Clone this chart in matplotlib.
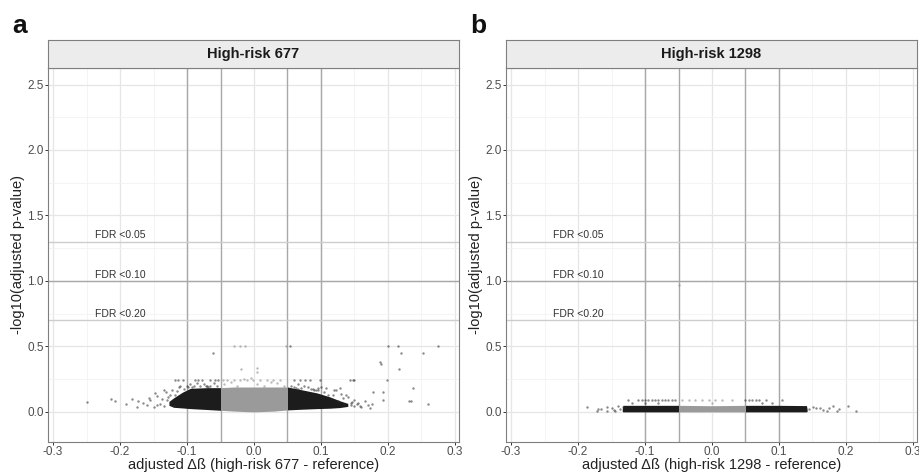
import matplotlib
matplotlib.use("Agg")
import matplotlib.pyplot as plt
import numpy as np

plt.rcParams['font.family'] = ['Liberation Sans', 'DejaVu Sans']

# ---------------- data ----------------
panel_letters = ["a", "b"]
strip_titles = ["High-risk 677", "High-risk 1298"]
x_titles = ["adjusted \u0394\u00df (high-risk 677 - reference)",
            "adjusted \u0394\u00df (high-risk 1298 - reference)"]
y_title = "-log10(adjusted p-value)"

x_ticks = [-0.3, -0.2, -0.1, 0.0, 0.1, 0.2, 0.3]
y_ticks = [0.0, 0.5, 1.0, 1.5, 2.0, 2.5]

fdr_levels = [1.301, 1.0, 0.699]
fdr_labels = ["FDR <0.05", "FDR <0.10", "FDR <0.20"]
effect_lines = [-0.1, -0.05, 0.05, 0.1]

# dense cloud envelopes
a_env_x = [-0.127, -0.12, -0.107, -0.095, -0.07, -0.05, -0.03, 0.0, 0.03, 0.05,
           0.07, 0.094, 0.113, 0.128, 0.14]
a_env_top = [0.08, 0.107, 0.15, 0.18, 0.185, 0.185, 0.19, 0.19, 0.19, 0.19,
             0.17, 0.145, 0.115, 0.085, 0.065]
a_env_bot = [0.05, 0.035, 0.03, 0.025, 0.018, 0.012, 0.006, 0.0, 0.006, 0.015,
             0.02, 0.025, 0.028, 0.033, 0.042]

b_env_x = [-0.134, -0.133, -0.10, -0.05, 0.0, 0.05, 0.10, 0.141, 0.142]
b_env_top = [0.02, 0.05, 0.05, 0.05, 0.047, 0.05, 0.05, 0.048, 0.02]
b_env_bot = [0.005, 0.0, 0.0, 0.0, 0.0, 0.0, 0.0, 0.0, 0.005]

# sparse points
a_pts_x = [-0.249, -0.213, -0.207, -0.191, -0.182, -0.174, -0.173, -0.157, -0.148, -0.145,
           -0.135, -0.130, -0.125, -0.120, -0.165, -0.160, -0.155, -0.150, -0.145, -0.140,
           -0.138, -0.135, -0.132, -0.128, -0.122, -0.118, -0.115, -0.112, -0.110, -0.105,
           -0.100, -0.095, -0.090, -0.085, -0.080, -0.075, -0.070, -0.065, -0.060, -0.055,
           -0.118, -0.113, -0.106, -0.088, -0.083, -0.078, -0.066, -0.058, -0.054, -0.061,
           -0.046, -0.040, -0.030, -0.021, -0.011, -0.001, 0.009, 0.019, 0.029, 0.039,
           -0.045, -0.035, -0.025, -0.015, -0.005, 0.005, 0.015, 0.025, 0.035, 0.045,
           -0.030, -0.021, -0.013, 0.048, 0.054, -0.020, 0.004, 0.005,
           0.059, 0.069, 0.076, 0.084, 0.099, 0.143, 0.148, 0.150,
           0.055, 0.060, 0.065, 0.070, 0.075, 0.080, 0.085, 0.090, 0.095, 0.100,
           0.105, 0.110, 0.115, 0.120, 0.125, 0.130, 0.135, 0.140, 0.145, 0.150,
           0.155, 0.160, 0.165, 0.170, 0.118, 0.123, 0.133, 0.108, 0.128, 0.138,
           0.200, 0.215, 0.274, 0.219, 0.253, 0.188, 0.190, 0.217, 0.198, 0.238,
           0.192, 0.178, 0.232, 0.234, 0.259, 0.192, 0.176, 0.173,
           0.088, 0.092, 0.095, 0.062, 0.066, -0.092, -0.098, -0.072, -0.068,
           0.145, 0.150, 0.153, 0.158, 0.147]
a_pts_y = [0.079, 0.097, 0.085, 0.061, 0.097, 0.036, 0.085, 0.104, 0.147, 0.053,
           0.168, 0.092, 0.130, 0.046, 0.070, 0.050, 0.090, 0.040, 0.120, 0.060,
           0.100, 0.045, 0.150, 0.110, 0.170, 0.130, 0.160, 0.190, 0.200, 0.175,
           0.200, 0.210, 0.200, 0.220, 0.200, 0.210, 0.195, 0.200, 0.220, 0.200,
           0.244, 0.244, 0.244, 0.244, 0.244, 0.244, 0.244, 0.244, 0.244, 0.448,
           0.244, 0.244, 0.244, 0.244, 0.244, 0.244, 0.244, 0.244, 0.244, 0.244,
           0.210, 0.230, 0.200, 0.250, 0.260, 0.210, 0.200, 0.230, 0.220, 0.200,
           0.504, 0.504, 0.504, 0.504, 0.504, 0.328, 0.307, 0.333,
           0.244, 0.244, 0.244, 0.244, 0.244, 0.244, 0.244, 0.244,
           0.200, 0.190, 0.210, 0.180, 0.200, 0.190, 0.175, 0.170, 0.180, 0.190,
           0.150, 0.130, 0.100, 0.170, 0.080, 0.140, 0.060, 0.110, 0.050, 0.090,
           0.070, 0.040, 0.080, 0.050, 0.130, 0.168, 0.104, 0.180, 0.180, 0.130,
           0.504, 0.504, 0.504, 0.448, 0.448, 0.384, 0.366, 0.328, 0.244, 0.180,
           0.153, 0.153, 0.085, 0.085, 0.061, 0.092, 0.061, 0.033,
           0.175, 0.170, 0.165, 0.185, 0.178, 0.192, 0.188, 0.195, 0.19,
           0.065, 0.045, 0.058, 0.048, 0.072]

b_pts_x = [-0.186, -0.172, -0.157, -0.156, -0.147, -0.140, -0.133, -0.170, -0.165, -0.150,
           -0.145, -0.138, -0.125, -0.110, -0.105, -0.100, -0.095, -0.090, -0.085, -0.080,
           -0.075, -0.070, -0.065, -0.060, -0.055, -0.045, -0.035, -0.025, -0.015, -0.005,
           0.005, 0.015, 0.030, 0.050, 0.055, 0.060, 0.065, 0.070, 0.080, 0.105,
           -0.120, -0.100, -0.080, 0.000, 0.075, 0.090,
           0.145, 0.151, 0.155, 0.161, 0.165, 0.171, 0.175, 0.181, 0.186, 0.190,
           0.203, 0.215, -0.049]
b_pts_y = [0.041, 0.008, 0.008, 0.041, 0.015, 0.046, 0.036, 0.025, 0.020, 0.030,
           0.010, 0.025, 0.092, 0.092, 0.092, 0.092, 0.092, 0.092, 0.092, 0.092,
           0.092, 0.092, 0.092, 0.092, 0.092, 0.092, 0.092, 0.092, 0.092, 0.092,
           0.092, 0.092, 0.092, 0.092, 0.092, 0.092, 0.092, 0.092, 0.092, 0.092,
           0.070, 0.065, 0.070, 0.070, 0.070, 0.065,
           0.020, 0.041, 0.030, 0.033, 0.015, 0.008, 0.030, 0.046, 0.008, 0.025,
           0.046, 0.008, 0.969]

envelopes = [(a_env_x, a_env_top, a_env_bot), (b_env_x, b_env_top, b_env_bot)]
points = [(a_pts_x, a_pts_y), (b_pts_x, b_pts_y)]

# ---------------- figure ----------------
W, H = 920, 474
fig = plt.figure(figsize=(W / 100, H / 100), dpi=100)

panel_left_px = [48, 506]
panel_w_px = 411
panel_top_px, panel_bot_px = 68, 442
strip_top_px = 40

BLACK = "#1c1c1c"
GREY = "#9a9a9a"

for i in range(2):
    l = panel_left_px[i] / W
    w = panel_w_px / W
    b = (H - panel_bot_px) / H
    h = (panel_bot_px - panel_top_px) / H
    ax = fig.add_axes([l, b, w, h])
    ax.set_xlim(-0.3075, 0.306)
    ax.set_ylim(-0.23, 2.626)

    # grid
    ax.set_xticks(x_ticks)
    ax.set_yticks(y_ticks)
    ax.set_xticks([-0.25, -0.15, -0.05, 0.05, 0.15, 0.25], minor=True)
    ax.set_yticks([0.25, 0.75, 1.25, 1.75, 2.25], minor=True)
    ax.grid(which="major", color="#e6e6e6", lw=0.9, zorder=0)
    ax.grid(which="minor", color="#f2f2f2", lw=0.6, zorder=0)
    ax.set_axisbelow(True)
    ax.tick_params(which="minor", length=0)
    ax.tick_params(which="major", length=2, width=0.7, color="#333333",
                   labelsize=8.5, labelcolor="#4d4d4d", pad=1)
    ax.set_xticklabels([f"{t:.1f}" for t in x_ticks])
    ax.set_yticklabels([f"{t:.1f}" for t in y_ticks])
    for sp in ax.spines.values():
        sp.set_color("#7f7f7f")
        sp.set_linewidth(0.8)

    # reference lines
    for xv in effect_lines:
        ax.axvline(xv, color="#a8a8a8", lw=1.0, zorder=1)
    for yv, lab in zip(fdr_levels, fdr_labels):
        ax.axhline(yv, color="#a8a8a8" if yv == 1.0 else "#cdcdcd", lw=1.0, zorder=1)
        ax.text(-0.2, yv + 0.008, lab, ha="center", va="bottom", fontsize=7.5,
                color="#333333", zorder=5)

    # dense clouds
    ex, et, eb = (np.array(v) for v in envelopes[i])
    ax.fill_between(ex, eb, et, where=ex <= -0.05, color=BLACK, lw=0, zorder=3)
    ax.fill_between(ex, eb, et, where=ex >= 0.05, color=BLACK, lw=0, zorder=3)
    ax.fill_between(ex, eb, et, where=np.abs(ex) <= 0.05, color=GREY, lw=0, zorder=3)

    # sparse points
    px, py = (np.array(v) for v in points[i])
    inner = np.abs(px) < 0.05
    ax.scatter(px[~inner], py[~inner], s=3, color="#2a2a2a", alpha=0.55,
               linewidths=0, zorder=4)
    ax.scatter(px[inner], py[inner], s=3, color="#8f8f8f", alpha=0.6,
               linewidths=0, zorder=4)

    ax.set_xlabel(x_titles[i], fontsize=10.5, color="#222222", labelpad=0)
    ax.set_ylabel(y_title, fontsize=10.5, color="#222222", labelpad=2)

    # strip
    sax = fig.add_axes([l, (H - panel_top_px) / H, w, (panel_top_px - strip_top_px) / H])
    sax.set_xticks([])
    sax.set_yticks([])
    sax.set_facecolor("#ececec")
    for sp in sax.spines.values():
        sp.set_color("#7f7f7f")
        sp.set_linewidth(0.8)
    sax.text(0.5, 0.5, strip_titles[i], ha="center", va="center",
             fontsize=10.5, fontweight="bold", color="#1a1a1a",
             transform=sax.transAxes)

    # panel letter
    fig.text((panel_left_px[i] - 36) / W, (H - 14) / H, panel_letters[i],
             fontsize=19, fontweight="bold", ha="left", va="top", color="#111111")

fig.savefig("out.png", dpi=100)
